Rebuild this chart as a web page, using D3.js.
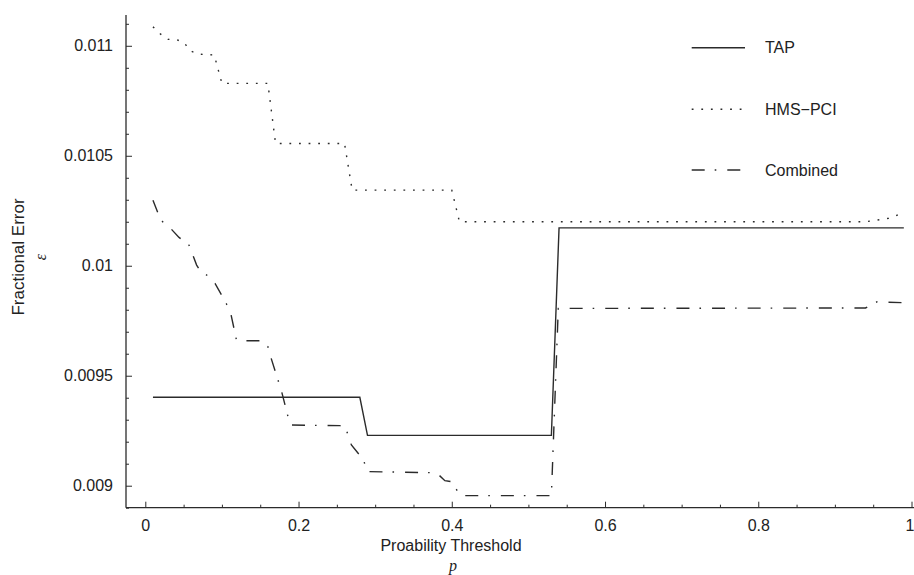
<!DOCTYPE html>
<html>
<head>
<meta charset="utf-8">
<script src="https://cdn.jsdelivr.net/npm/d3@7"></script>
<style>
  body { margin: 0; background: #fff; }
  svg text { font-family: "Liberation Sans", Arial, sans-serif; fill: #222; }
</style>
</head>
<body>
<div id="chart"></div>
<script>
// values (vertices of each line)
const tapP = [0.01, 0.28, 0.29, 0.53, 0.54, 0.99];
const tapE = [0.009402, 0.009402, 0.009229, 0.009229, 0.010172, 0.010172];

const hmsP = [0.01, 0.02, 0.03, 0.04, 0.05, 0.06, 0.07, 0.09, 0.10, 0.16, 0.17, 0.26, 0.27, 0.40, 0.41, 0.94, 0.96, 0.97, 0.98, 0.99];
const hmsE = [0.011086, 0.011053, 0.011029, 0.011029, 0.011016, 0.010975, 0.010962, 0.010958, 0.010829, 0.010829,
              0.010556, 0.010556, 0.010344, 0.010344, 0.010200, 0.010200, 0.010210, 0.010216, 0.010228, 0.010245];

const combP = [0.01, 0.02, 0.033, 0.044, 0.057, 0.067, 0.071, 0.08, 0.091, 0.106, 0.112, 0.119, 0.13, 0.15, 0.16,
               0.165, 0.178, 0.189, 0.254, 0.261, 0.269, 0.285, 0.289, 0.38, 0.391, 0.40, 0.404, 0.411, 0.53, 0.539,
               0.94, 0.955, 0.99];
const combE = [0.010298, 0.010208, 0.010170, 0.010129, 0.010094, 0.010003, 0.009980, 0.009958, 0.009920, 0.009826,
               0.009776, 0.009662, 0.009659, 0.009659, 0.009632, 0.009571, 0.009427, 0.009276, 0.009273, 0.009268,
               0.009185, 0.009117, 0.009064, 0.009059, 0.009023, 0.009018, 0.008995, 0.008955, 0.008955, 0.009806,
               0.009808, 0.009836, 0.009832];

const xMajor = [0, 0.2, 0.4, 0.6, 0.8, 1];
const xMinor = [0.05, 0.1, 0.15, 0.25, 0.3, 0.35, 0.45, 0.5, 0.55, 0.65, 0.7, 0.75, 0.85, 0.9, 0.95];
const yMajor = [0.009, 0.0095, 0.01, 0.0105, 0.011];
const yMajorLabels = ["0.009", "0.0095", "0.01", "0.0105", "0.011"];
const yMinor = [0.0089, 0.0091, 0.0092, 0.0093, 0.0094, 0.0096, 0.0097, 0.0098, 0.0099,
                0.0101, 0.0102, 0.0103, 0.0104, 0.0106, 0.0107, 0.0108, 0.0109, 0.0111];

const seriesNames = ["TAP", "HMS\u2212PCI", "Combined"];

const width = 914, height = 575;
const axisLeftX = 126, axisBottomY = 507.7, axisTopY = 15, axisRightX = 914;

const x = d3.scaleLinear().domain([0, 1]).range([145.3, 911.5]);
const y = d3.scaleLinear().domain([0.0089, 0.01114]).range([axisBottomY, axisTopY]);

const svg = d3.select("#chart").append("svg")
    .attr("width", width)
    .attr("height", height);

const ink = "#2b2b2b";

// x axis
const gx = svg.append("g").attr("transform", `translate(0,${axisBottomY})`);
gx.call(d3.axisBottom(x).tickValues(xMajor).tickSize(-6).tickPadding(11.5)
    .tickFormat(d => d === 0 || d === 1 ? String(d) : d.toFixed(1)));
gx.call(g => g.select(".domain").remove());
// the "1" label sits at the very edge of the figure
gx.selectAll(".tick text").filter(d => d === 1).attr("dx", "-2");
gx.append("g").call(d3.axisBottom(x).tickValues(xMinor).tickSize(-3).tickFormat(""))
    .call(g => g.select(".domain").remove());
gx.append("line").attr("x1", axisLeftX).attr("x2", axisRightX).attr("stroke", ink).attr("stroke-width", 1.3);

// y axis
const gy = svg.append("g").attr("transform", `translate(${axisLeftX},0)`);
gy.call(d3.axisLeft(y).tickValues(yMajor).tickSize(-6).tickPadding(13)
    .tickFormat((d, i) => yMajorLabels[i]));
gy.call(g => g.select(".domain").remove());
gy.append("g").call(d3.axisLeft(y).tickValues(yMinor).tickSize(-3).tickFormat(""))
    .call(g => g.select(".domain").remove());
gy.append("line").attr("y1", axisTopY).attr("y2", axisBottomY).attr("stroke", ink).attr("stroke-width", 1.3);

svg.selectAll(".tick line").attr("stroke", ink).attr("stroke-width", 1);
svg.selectAll(".tick text").attr("font-size", 16).attr("fill", "#222")
    .attr("font-family", "'Liberation Sans', Arial, sans-serif");

// axis titles
svg.append("text")
    .attr("x", 451).attr("y", 551)
    .attr("text-anchor", "middle")
    .attr("font-size", 16)
    .text("Proability Threshold");
svg.append("text")
    .attr("x", 453).attr("y", 571)
    .attr("text-anchor", "middle")
    .attr("font-size", 16)
    .style("font-family", "'Liberation Serif', 'DejaVu Serif', serif")
    .style("font-style", "italic")
    .text("p");
svg.append("text")
    .attr("transform", "translate(24,257) rotate(-90)")
    .attr("text-anchor", "middle")
    .attr("font-size", 17)
    .text("Fractional Error");
svg.append("text")
    .attr("transform", "translate(46,257) rotate(-90)")
    .attr("text-anchor", "middle")
    .attr("font-size", 16)
    .style("font-family", "'Liberation Serif', 'DejaVu Serif', serif")
    .style("font-style", "italic")
    .text("\u03b5");

// lines
const line = d3.line().x(d => x(d[0])).y(d => y(d[1]));
const styles = [
  { dash: null },
  { dash: "1.8,7.8" },
  { dash: "13,10,1.6,11" }
];
const series = [
  d3.zip(tapP, tapE),
  d3.zip(hmsP, hmsE),
  d3.zip(combP, combE)
];

svg.append("g").selectAll("path")
  .data(series)
  .join("path")
    .attr("d", line)
    .attr("fill", "none")
    .attr("stroke", ink)
    .attr("stroke-width", 1.4)
    .attr("stroke-dasharray", (d, i) => styles[i].dash);

// legend
const legendY = [47.7, 109.3, 170];
const legend = svg.append("g").selectAll("g")
  .data(seriesNames)
  .join("g")
    .attr("transform", (d, i) => `translate(0,${legendY[i]})`);
legend.append("line")
    .attr("x1", 691.7).attr("x2", 745)
    .attr("stroke", ink)
    .attr("stroke-width", 1.4)
    .attr("stroke-dasharray", (d, i) => styles[i].dash);
legend.append("text")
    .attr("x", 765)
    .attr("dy", "0.35em")
    .attr("font-size", 16)
    .text(d => d);
</script>
</body>
</html>
